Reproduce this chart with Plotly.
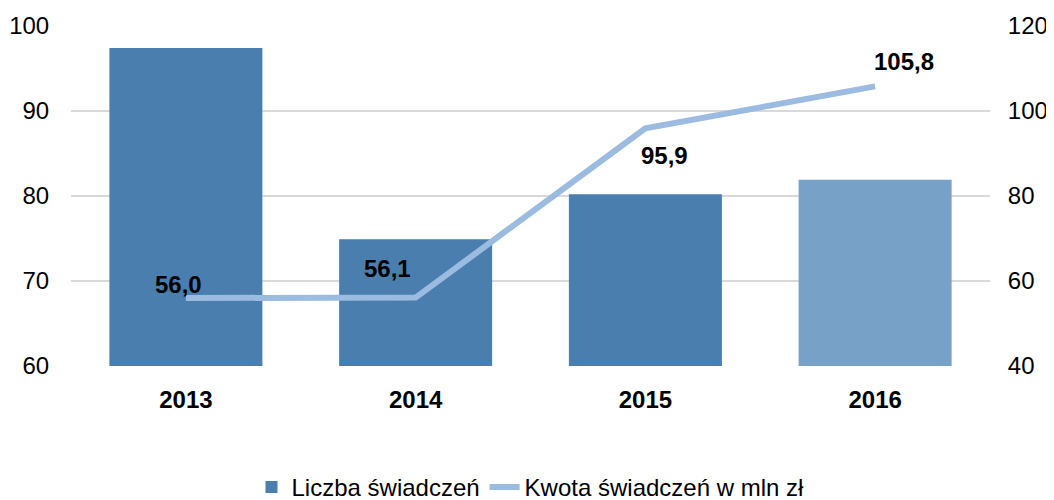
import plotly.graph_objects as go

years = ["2013", "2014", "2015", "2016"]
liczba = [97.4, 74.9, 80.2, 81.9]
kwota = [56.0, 56.1, 95.9, 105.8]
kwota_labels = ["56,0", "56,1", "95,9", "105,8"]
bar_colors = ["#4a7eae", "#4a7eae", "#4a7eae", "#77a1c7"]

FONT = "Liberation Sans, Arial, sans-serif"
FS = 24

xpos = list(range(len(years)))

fig = go.Figure()
fig.add_trace(go.Bar(
    x=xpos, y=liczba, name="Liczba świadczeń",
    marker=dict(color=bar_colors, line=dict(width=0)),
    yaxis="y", hoverinfo="skip",
))
fig.add_trace(go.Scatter(
    x=xpos, y=kwota, name="Kwota świadczeń w mln zł",
    mode="lines", line=dict(color="#9bbbe0", width=6),
    yaxis="y2", hoverinfo="skip",
))

offsets = [(-7, 14), (-28, 29), (19, -27), (29, 25)]
for xi, v, lab, (dx, dy) in zip(xpos, kwota, kwota_labels, offsets):
    fig.add_annotation(x=xi, y=v, xref="x", yref="y2", text="<b>%s</b>" % lab,
                       showarrow=False, xshift=dx, yshift=dy,
                       font=dict(family=FONT, size=FS, color="#000000"))

fig.update_layout(
    width=1046, height=492,
    margin=dict(l=63, r=64, t=18, b=134, autoexpand=False),
    paper_bgcolor="white", plot_bgcolor="white",
    font=dict(family=FONT, size=FS, color="#000000"),
    bargap=0.334,
    showlegend=True,
    legend=dict(orientation="h", x=0.5, xanchor="center", y=-0.357, yanchor="middle",
                font=dict(family=FONT, size=FS), traceorder="normal"),
    xaxis=dict(range=[-0.5, 3.5], showgrid=False, showline=False, zeroline=False,
               automargin=False,
               ticks="outside", ticklen=12, tickcolor="rgba(0,0,0,0)",
               tickfont=dict(family=FONT, size=FS),
               tickmode="array", tickvals=xpos,
               ticktext=["<b>%s</b>" % y for y in years]),
    yaxis=dict(range=[60, 100], dtick=10, showgrid=True, gridcolor="#d9d9d9", gridwidth=1.5,
               zeroline=False, showline=False, automargin=False,
               ticks="outside", ticklen=16, tickcolor="rgba(0,0,0,0)",
               tickfont=dict(family=FONT, size=FS)),
    yaxis2=dict(range=[40, 120], dtick=20, overlaying="y", side="right",
                showgrid=False, zeroline=False, showline=False, automargin=False,
                ticks="outside", ticklen=12, tickcolor="rgba(0,0,0,0)",
                tickfont=dict(family=FONT, size=FS)),
)

fig.write_html("out.html")
